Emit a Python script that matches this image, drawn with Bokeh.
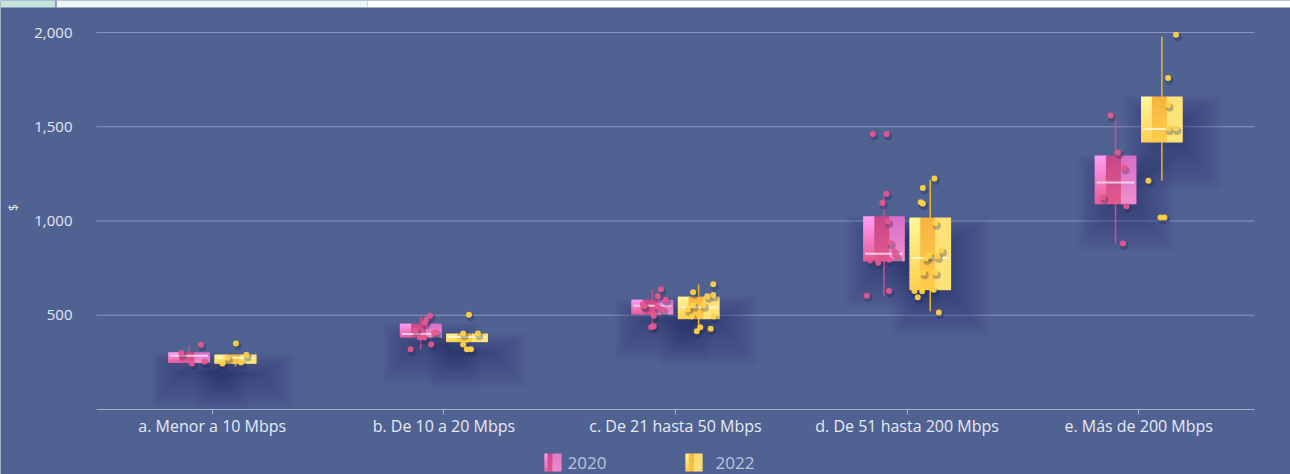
import math
from bokeh.plotting import figure
from bokeh.models import Range1d, FixedTicker, NumeralTickFormatter, ColumnDataSource
from bokeh.embed import file_html
from bokeh.resources import INLINE
from bokeh.core.properties import value

# ---------------- data ----------------
categories = ["a. Menor a 10 Mbps", "b. De 10 a 20 Mbps", "c. De 21 hasta 50 Mbps",
              "d. De 51 hasta 200 Mbps", "e. Más de 200 Mbps"]
years = ["2020", "2022"]

low_2020 = [244, 320, 433, 601, 882]
q1_2020 = [249, 383, 505, 786, 1089]
med_2020 = [285, 401, 551, 826, 1204]
q3_2020 = [304, 456, 583, 1025, 1347]
high_2020 = [339, 498, 636, 1144, 1559]

low_2022 = [230, 352, 433, 521, 1214]
q1_2022 = [245, 360, 479, 633, 1417]
med_2022 = [274, 385, 542, 804, 1488]
q3_2022 = [292, 403, 599, 1018, 1660]
high_2022 = [292, 403, 663, 1218, 1979]

pts_2020 = [[300, 343, 244, 254],
            [498, 476, 460, 419, 405, 410, 382, 382, 345, 320],
            [638, 601, 582, 558, 548, 546, 530, 498, 442, 436],
            [1462, 1462, 1145, 1096, 997, 885, 838, 811, 790, 778, 794, 629, 603],
            [1560, 1364, 1283, 1126, 1078, 880]]
jit_2020 = [[-0.134, -0.049, -0.088, -0.033],
            [-0.060, -0.076, -0.083, -0.122, -0.042, -0.035, -0.104, -0.085, -0.055, -0.144],
            [-0.063, -0.076, -0.043, -0.141, -0.134, -0.079, -0.055, -0.094, -0.094, -0.105],
            [-0.148, -0.088, -0.089, -0.107, -0.083, -0.073, -0.055, -0.046, -0.160, -0.125, -0.078, -0.078, -0.174],
            [-0.121, -0.089, -0.063, -0.154, -0.053, -0.068]]
pts_2022 = [[350, 290, 274, 244, 249],
            [502, 403, 403, 345, 320, 320],
            [664, 622, 601, 608, 553, 553, 530, 493, 493, 436, 415, 429],
            [1226, 1175, 1099, 1091, 988, 845, 817, 813, 802, 725, 725, 629, 627, 635, 596, 514],
            [1988, 1759, 1616, 1491, 1491, 1214, 1018, 1018]]
jit_2022 = [[0.102, 0.147, 0.065, 0.044, 0.124],
            [0.108, 0.083, 0.147, 0.083, 0.099, 0.117],
            [0.163, 0.076, 0.137, 0.163, 0.076, 0.120, 0.053, 0.070, 0.165, 0.107, 0.092, 0.152],
            [0.118, 0.068, 0.059, 0.068, 0.122, 0.148, 0.096, 0.131, 0.082, 0.070, 0.122, 0.032, 0.065, 0.115, 0.046, 0.137],
            [0.161, 0.127, 0.127, 0.128, 0.160, 0.042, 0.094, 0.111]]

y_ticks = [500, 1000, 1500, 2000]
y_label = "$"

# ---------------- style ----------------
BG = "#506292"
FONT = "Open Sans"
SHADOW = "#1d2750"
GRID = "#8a96bd"

PINK_BANDS = [(0.0, 0.27, "#ff9ff5", "#e65c98"),
              (0.27, 0.63, "#c64888", "#e2588f"),
              (0.63, 1.0, "#d96dc9", "#ef8fcc")]
YELLOW_BANDS = [(0.0, 0.26, "#fff89a", "#ffcf52"),
                (0.26, 0.62, "#f7b43f", "#ffcd4c"),
                (0.62, 1.0, "#fde27a", "#fee37a")]
PINK_ICON = [(0.0, 0.18, "#ff9ff0", "#e46aa8"),
             (0.18, 0.47, "#cc4a8c", "#e0568f"),
             (0.47, 1.0, "#e27cc8", "#ec8acb")]
YELLOW_ICON = [(0.0, 0.2, "#fff48a", "#ffd055"),
               (0.2, 0.5, "#f6b540", "#fcc64a"),
               (0.5, 1.0, "#fcdc72", "#fde078")]

series = [
    dict(name="2020", low=low_2020, q1=q1_2020, med=med_2020, q3=q3_2020, high=high_2020,
         pts=pts_2020, jit=jit_2020, off=-0.1, bands=PINK_BANDS, icon=PINK_ICON,
         whisk="#c9508f", median="#ffd6ec", dot="#e8568f"),
    dict(name="2022", low=low_2022, q1=q1_2022, med=med_2022, q3=q3_2022, high=high_2022,
         pts=pts_2022, jit=jit_2022, off=0.1, bands=YELLOW_BANDS, icon=YELLOW_ICON,
         whisk="#e6b52e", median="#fff4cf", dot="#ffd347"),
]
BOX_W = 0.18

# page geometry (px): plotting area spans x 96..1254, y = 0 at 409 px, 2000 at 32 px
W, H = 1290, 474
X_LEFT_PX, X_RIGHT_PX = 96, 1254
Y0_PX = 409
PX_X = 5.0 / (X_RIGHT_PX - X_LEFT_PX)     # data units per px
PX_Y = 2000.0 / 377.0


def dx(px):  # page x px -> data x
    return -0.5 + (px - X_LEFT_PX) * PX_X


def dy(px):  # page y px -> data y
    return (Y0_PX - px) * PX_Y


def hex2rgb(h):
    h = h.lstrip("#")
    return tuple(int(h[i:i + 2], 16) for i in (0, 2, 4))


def lerp(c1, c2, t):
    a, b = hex2rgb(c1), hex2rgb(c2)
    return "#%02x%02x%02x" % tuple(int(round(a[i] + (b[i] - a[i]) * t)) for i in range(3))


def gradient_quads(x0, width, y_bottom, y_top, bands, n=16, ox=0.0, oy=0.0):
    d = dict(left=[], right=[], top=[], bottom=[], color=[])
    for bi, (f0, f1, ct, cb) in enumerate(bands):
        extra = ox if bi < len(bands) - 1 else 0.0
        for j in range(n):
            top = y_top - (y_top - y_bottom) * j / n
            bot = y_top - (y_top - y_bottom) * (j + 1) / n
            if j < n - 1:
                bot -= oy
            d["left"].append(x0 + width * f0)
            d["right"].append(x0 + width * f1 + extra)
            d["top"].append(top)
            d["bottom"].append(bot)
            d["color"].append(lerp(ct, cb, (j + 0.5) / n))
    return d


p = figure(width=W, height=H, output_backend="svg", toolbar_location=None,
           x_range=Range1d(dx(0), dx(W)), y_range=Range1d(dy(H), dy(0)),
           min_border=0, background_fill_color=BG, border_fill_color=BG,
           outline_line_color=None)

# ---- page strip above the chart ----
p.quad(left=[dx(0), dx(56), dx(367)], right=[dx(55), dx(367), dx(W)],
       top=[dy(0)] * 3, bottom=[dy(7)] * 3,
       fill_color=["#c3e3dc", "#f0f6f5", "#ffffff"], line_color=None)
p.segment(x0=[dx(55.5)], x1=[dx(55.5)], y0=[dy(0)], y1=[dy(7)], line_color="#7d97b2", line_width=1)

# ---- grid lines ----
p.segment(x0=[-0.5] * len(y_ticks), x1=[4.5] * len(y_ticks), y0=y_ticks, y1=y_ticks,
          line_color=GRID, line_width=1)

# ---- soft shadows (many faint nested layers, offset down-right) ----
sh = dict(left=[], right=[], top=[], bottom=[])
for s in series:
    for i in range(len(categories)):
        x0 = i + s["off"] - BOX_W / 2
        x1 = i + s["off"] + BOX_W / 2
        for k in range(24):
            sh["left"].append(x0 + (14 - 1.4 * k) * PX_X)
            sh["right"].append(x1 + (0 + 1.7 * k) * PX_X)
            sh["top"].append(s["q3"][i] - (24 - 1.1 * k) * PX_Y)
            sh["bottom"].append(s["q1"][i] - (4 + 1.9 * k) * PX_Y)
p.quad(source=ColumnDataSource(sh), left="left", right="right", top="top", bottom="bottom",
       fill_color=SHADOW, fill_alpha=0.011, line_color=None)

# ---- whiskers ----
for s in series:
    xs = [i + s["off"] for i in range(len(categories))]
    p.segment(x0=xs, x1=xs, y0=s["low"], y1=s["high"], line_color=s["whisk"], line_width=1.5)

# ---- gradient boxes + medians ----
for s in series:
    d = dict(left=[], right=[], top=[], bottom=[], color=[])
    for i in range(len(categories)):
        g = gradient_quads(i + s["off"] - BOX_W / 2, BOX_W, s["q1"][i], s["q3"][i], s["bands"],
                           ox=1.0 * PX_X, oy=1.0 * PX_Y)
        for k in d:
            d[k].extend(g[k])
    p.quad(source=ColumnDataSource(d), left="left", right="right", top="top", bottom="bottom",
           fill_color="color", line_color=None)
    xs0 = [i + s["off"] - BOX_W / 2 + 2 * PX_X for i in range(len(categories))]
    xs1 = [i + s["off"] + BOX_W / 2 - 2 * PX_X for i in range(len(categories))]
    p.segment(x0=xs0, x1=xs1, y0=s["med"], y1=s["med"], line_color=s["median"],
              line_width=2, line_alpha=0.9)

# ---- points ----
for s in series:
    xs, ys = [], []
    for i in range(len(categories)):
        for v, j in zip(s["pts"][i], s["jit"][i]):
            xs.append(i + j)
            ys.append(v)
    p.scatter(x=[x + 1.5 * PX_X for x in xs], y=[y - 2.5 * PX_Y for y in ys], size=8,
              fill_color=SHADOW, fill_alpha=0.3, line_color=None)
    p.scatter(x=xs, y=ys, size=6, fill_color=s["dot"], fill_alpha=0.95, line_color=None)

# ---- axes ----
p.xgrid.visible = False
p.ygrid.visible = False

p.yaxis.fixed_location = -0.5
p.yaxis.ticker = FixedTicker(ticks=y_ticks)
p.yaxis.formatter = NumeralTickFormatter(format="0,0")
p.yaxis.axis_line_color = None
p.yaxis.major_tick_line_color = None
p.yaxis.minor_tick_line_color = None
p.yaxis.major_label_standoff = 18
p.yaxis.major_label_text_font = FONT
p.yaxis.major_label_text_font_size = "15px"
p.yaxis.major_label_text_color = "#e3e8f3"

p.text(x=[dx(13)], y=[dy(207)], text=[y_label], angle=math.pi / 2,
       text_align="center", text_baseline="middle", text_font=value(FONT),
       text_font_size="12px", text_color="#e3e8f3")

p.xaxis.fixed_location = 0
p.xaxis.bounds = (-0.5, 4.5)
p.xaxis.ticker = FixedTicker(ticks=list(range(len(categories))))
p.xaxis.major_label_overrides = {i: c for i, c in enumerate(categories)}
p.xaxis.axis_line_color = "#a4aecd"
p.xaxis.major_tick_line_color = "#a4aecd"
p.xaxis.major_tick_in = 0
p.xaxis.major_tick_out = 5
p.xaxis.minor_tick_line_color = None
p.xaxis.major_label_standoff = 0
p.xaxis.major_label_text_font = FONT
p.xaxis.major_label_text_font_size = "16px"
p.xaxis.major_label_text_color = "#e6eaf4"

# ---- legend (below the axis) ----
icon_px = [544, 685]
text_px = [567, 715]
for s, ix in zip(series, icon_px):
    g = gradient_quads(dx(ix), 17 * PX_X, dy(471), dy(453), s["icon"],
                       ox=0.6 * PX_X, oy=0.6 * PX_Y)
    p.quad(source=ColumnDataSource(g), left="left", right="right", top="top", bottom="bottom",
           fill_color="color", line_color=None)
p.text(x=[dx(t) for t in text_px], y=[dy(462)] * 2, text=years,
       text_baseline="middle", text_align="left",
       text_font=value(FONT), text_font_size="17px", text_color="#bcc4df")

open("out.html", "w").write(file_html(p, INLINE))
